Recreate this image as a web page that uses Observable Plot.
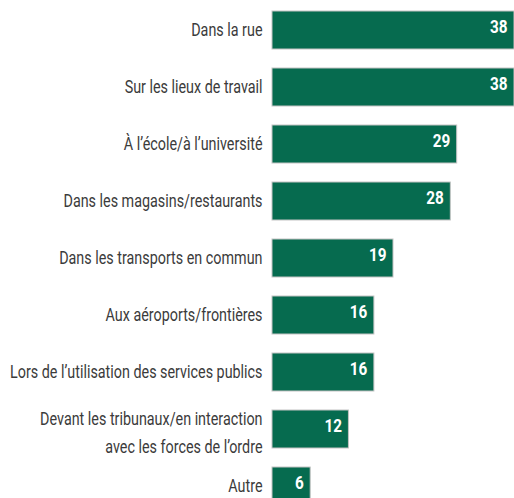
<!DOCTYPE html>
<html>
<head>
<meta charset="utf-8">
<script src="https://cdn.jsdelivr.net/npm/d3@7"></script>
<script src="https://cdn.jsdelivr.net/npm/@observablehq/plot@0.6"></script>
<style>
  html, body { margin: 0; padding: 0; background: #ffffff; overflow: hidden; }
  #chart svg { display: block; }
</style>
</head>
<body>
<div id="chart"></div>
<script>
const categories = [
  "Dans la rue",
  "Sur les lieux de travail",
  "À l’école/à l’université",
  "Dans les magasins/restaurants",
  "Dans les transports en commun",
  "Aux aéroports/frontières",
  "Lors de l’utilisation des services publics",
  "Devant les tribunaux/en interaction\navec les forces de l’ordre",
  "Autre"
];
const values = [38, 38, 29, 28, 19, 16, 16, 12, 6];

const data = categories.map((c, i) => ({category: c, value: values[i]}));
const singleLine = data.filter(d => !d.category.includes("\n"));
const multiLine = data.filter(d => d.category.includes("\n"));

const labelOpts = {
  x: 0, y: "category", text: "category",
  textAnchor: "end", dx: -10, fontSize: 19, fill: "#3b3b3b", lineHeight: 1.47
};

const chart = Plot.plot({
  width: 514,
  height: 515,
  marginLeft: 272,
  marginRight: 0,
  marginTop: 0,
  marginBottom: 0,
  x: {domain: [0, 38], axis: null},
  y: {domain: categories, paddingInner: 0.342, paddingOuter: 0.184, axis: null},
  style: {
    fontFamily: "Roboto, 'Open Sans', sans-serif",
    background: "#ffffff"
  },
  marks: [
    Plot.barX(data, {x: "value", y: "category", fill: "#066b4f", stroke: "#c4c4c4", strokeWidth: 1}),
    Plot.text(singleLine, {...labelOpts, dy: -3}),
    Plot.text(multiLine, {...labelOpts, dy: 1}),
    Plot.text(data, {
      x: "value", y: "category", text: d => String(d.value),
      textAnchor: "end", dx: -7, dy: -3, fill: "#ffffff", fontWeight: "bold", fontSize: 18
    })
  ]
});

// condensed look: horizontal squeeze around each text's anchor point
const groups = chart.querySelectorAll('g[aria-label="text"]');
const squeeze = [0.755, 0.755, 0.85];
groups.forEach((g, gi) => {
  g.querySelectorAll("text").forEach(t => {
    const tr = t.getAttribute("transform") || "";
    t.setAttribute("transform", tr + ` scale(${squeeze[gi] ?? 1},1)`);
  });
});
document.getElementById("chart").appendChild(chart);
</script>
</body>
</html>
